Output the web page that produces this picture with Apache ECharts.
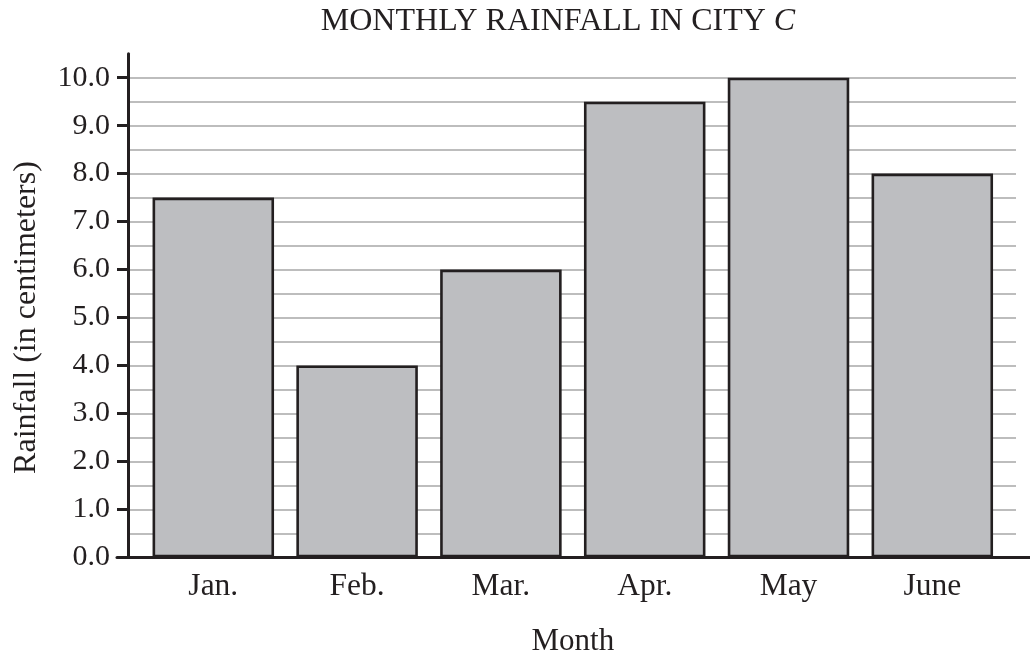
<!DOCTYPE html>
<html>
<head>
<meta charset="utf-8">
<script src="https://cdn.jsdelivr.net/npm/echarts@6/dist/echarts.min.js"></script>
<style>
html,body{margin:0;padding:0;background:#fff;}
#chart{width:1030px;height:656px;}
</style>
</head>
<body>
<div id="chart"></div>
<script>
const months = ['Jan.', 'Feb.', 'Mar.', 'Apr.', 'May', 'June'];
const rainfall = [7.5, 4.0, 6.0, 9.5, 10.0, 8.0];
const titleText = 'MONTHLY RAINFALL IN CITY ';
const titleItalic = 'C';
const yAxisName = 'Rainfall (in centimeters)';
const xAxisName = 'Month';

const FONT = '"Liberation Serif", "Times New Roman", serif';
const INK = '#231f20';

const chart = echarts.init(document.getElementById('chart'), null, {renderer: 'canvas'});
chart.setOption({
  animation: false,
  backgroundColor: '#fff',
  graphic: [{
    type: 'text',
    x: 558, y: 22,
    style: {
      text: '{a|' + titleText + '}{b|' + titleItalic + '}',
      align: 'center', verticalAlign: 'middle',
      rich: {
        a: {fontFamily: FONT, fontSize: 32, fill: INK, color: INK},
        b: {fontFamily: FONT, fontSize: 32, fontStyle: 'italic', fill: INK, color: INK}
      }
    }
  }],
  grid: [
    {left: 117, right: 0, top: 53.7, bottom: 98.7, outerBoundsMode: 'none', containLabel: false},
    {left: 128, right: 14, top: 53.7, bottom: 98.7, outerBoundsMode: 'none', containLabel: false},
    {left: 141.4, right: 25.8, top: 77.7, bottom: 98.7, outerBoundsMode: 'none', containLabel: false}
  ],
  xAxis: [
    {gridIndex: 0, type: 'value', min: 0, max: 1, show: true,
     axisLine: {show: true, onZero: false, lineStyle: {color: INK, width: 3}},
     axisTick: {show: false}, axisLabel: {show: false}, splitLine: {show: false}},
    {gridIndex: 1, type: 'value', min: 0, max: 1, show: false},
    {gridIndex: 2, type: 'category', data: months,
     axisLine: {show: false}, axisTick: {show: false},
     axisLabel: {fontFamily: FONT, fontSize: 31.5, color: INK, margin: 13},
     name: xAxisName, nameLocation: 'middle', nameGap: 69,
     nameTextStyle: {fontFamily: FONT, fontSize: 31, color: INK}}
  ],
  yAxis: [
    {gridIndex: 0, type: 'value', min: 0, max: 1, show: false},
    {gridIndex: 1, type: 'value', min: 0, max: 10.5, interval: 0.5,
     axisLine: {show: true, lineStyle: {color: INK, width: 3}},
     axisTick: {show: false}, axisLabel: {show: false},
     splitLine: {show: true, showMinLine: false, showMaxLine: false, lineStyle: {color: '#a7a7a7', width: 1.5}}},
    {gridIndex: 2, type: 'value', min: 0, max: 10, interval: 1, offset: 13.4,
     axisLine: {show: false},
     axisTick: {show: true, inside: false, length: 11, lineStyle: {color: INK, width: 3}},
     axisLabel: {fontFamily: FONT, fontSize: 30, color: INK, margin: 18,
       formatter: v => v.toFixed(1)},
     splitLine: {show: false},
     name: yAxisName, nameLocation: 'middle', nameGap: 85, nameRotate: 90,
     nameTextStyle: {fontFamily: FONT, fontSize: 32, color: INK}}
  ],
  series: [{
    type: 'bar',
    xAxisIndex: 2, yAxisIndex: 2,
    data: rainfall,
    barWidth: 121.5,
    itemStyle: {color: '#bdbec1', borderColor: INK, borderWidth: 2.6}
  }]
});
</script>
</body>
</html>
